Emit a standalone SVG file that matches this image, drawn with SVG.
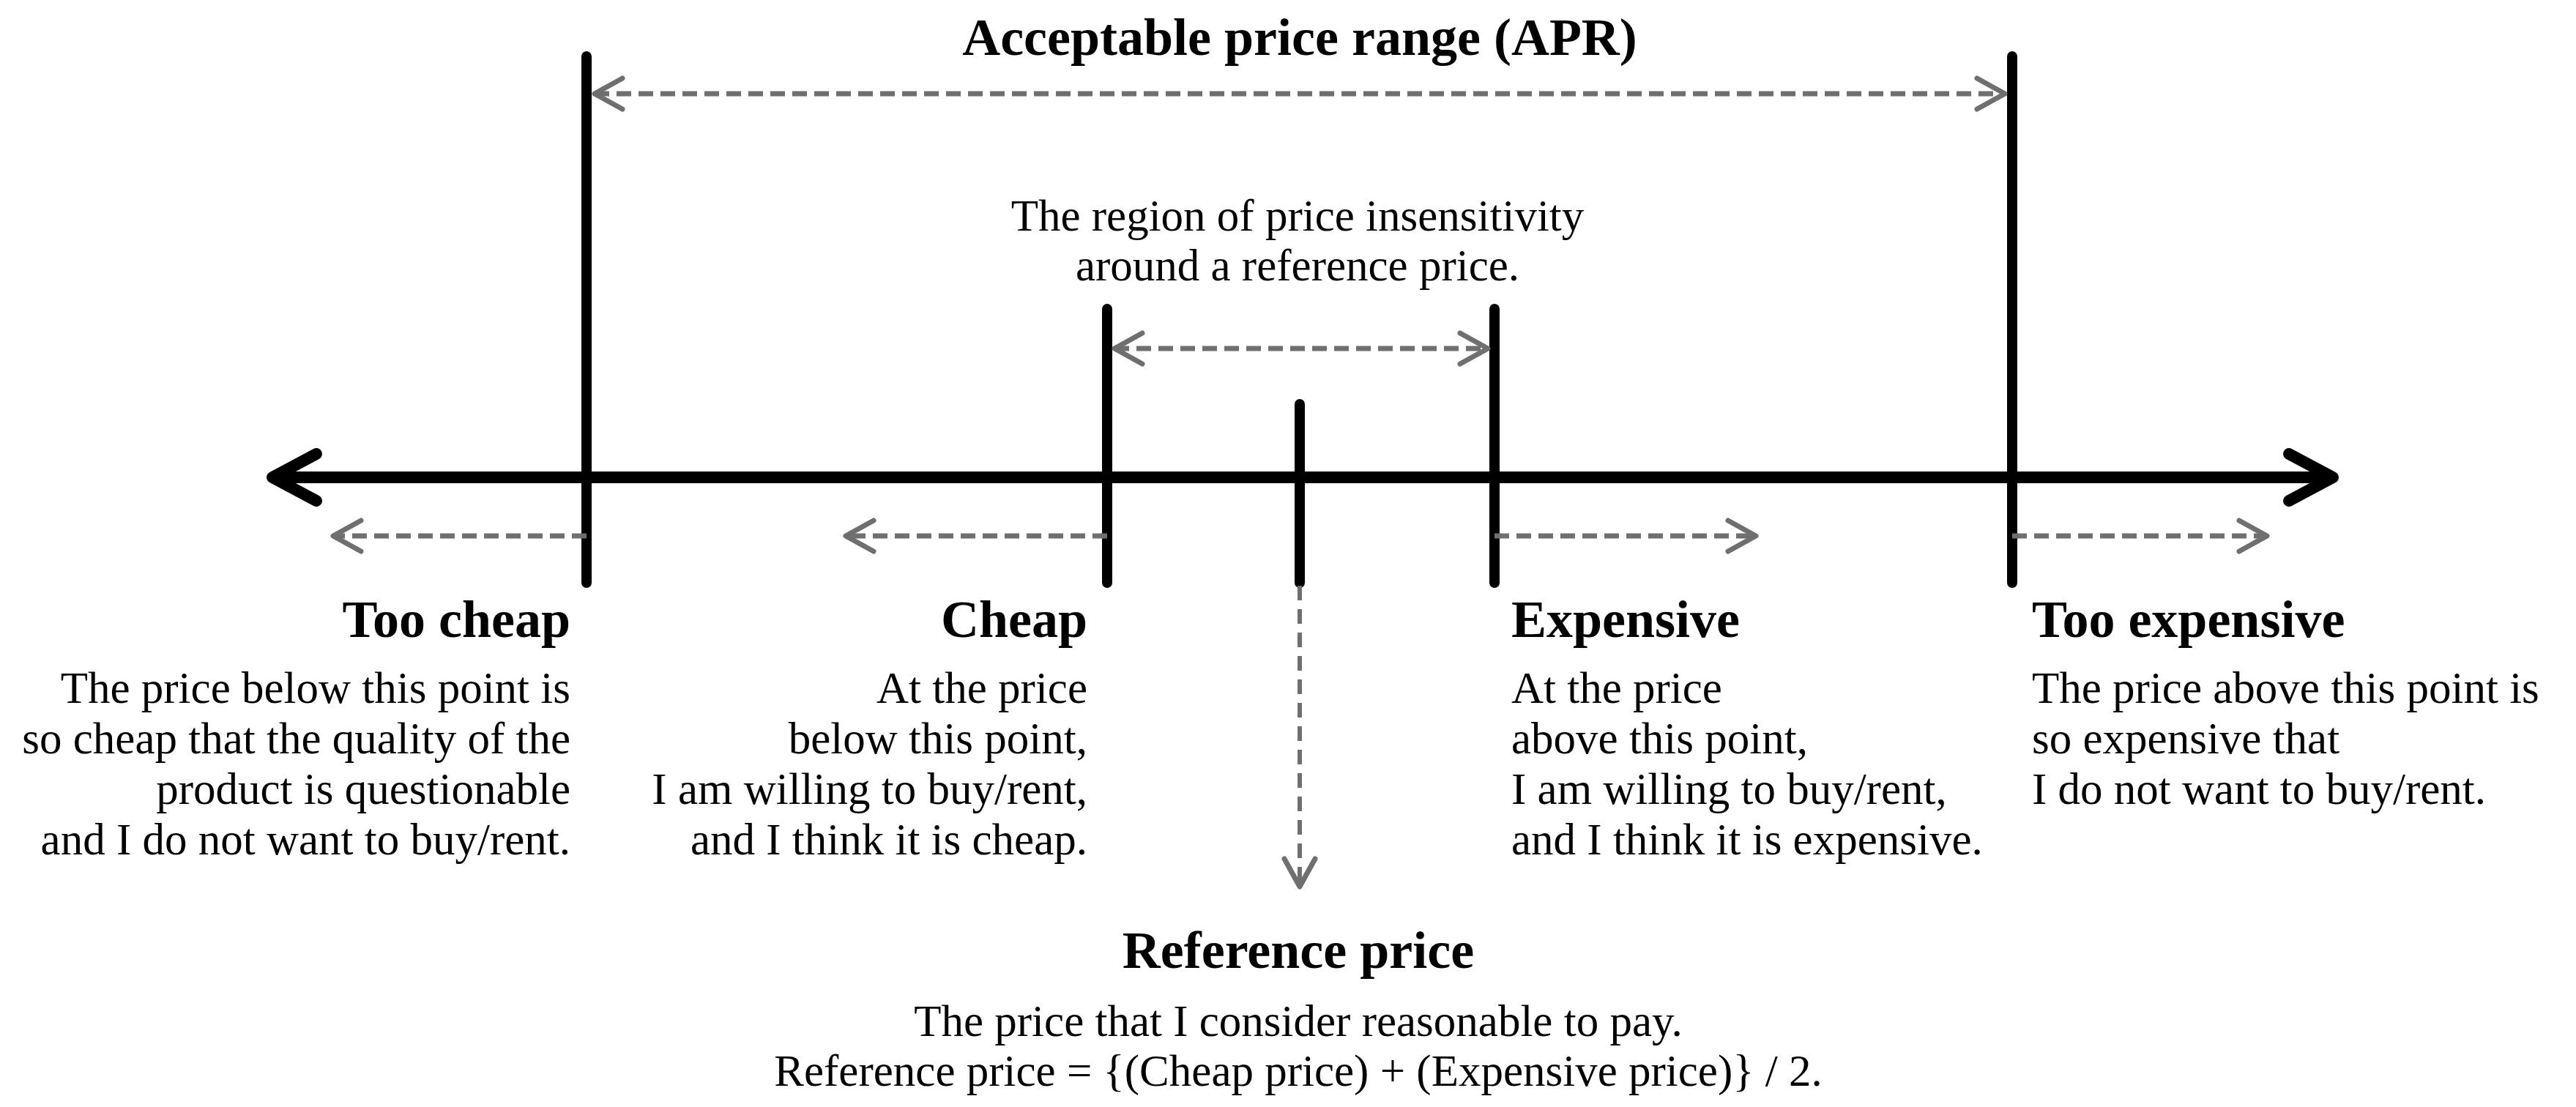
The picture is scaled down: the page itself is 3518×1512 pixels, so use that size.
<svg xmlns="http://www.w3.org/2000/svg" width="3518" height="1512" viewBox="0 0 3518 1512">
<style>
text{font-family:"Liberation Serif","Times New Roman",serif;fill:#000}
.h{font-size:72px;font-weight:bold}
.b{font-size:61px}
.m{text-anchor:middle}
.e{text-anchor:end}
.tick{stroke:#000;stroke-width:14;stroke-linecap:round;fill:none}
.axis{stroke:#000;stroke-width:16;fill:none}
.dash{stroke:#6f6f6f;stroke-width:7;stroke-dasharray:20 10;fill:none}
.vdash{stroke:#6f6f6f;stroke-width:6;stroke-dasharray:20 12;fill:none}
</style>
<defs>
<marker id="ah" markerUnits="userSpaceOnUse" viewBox="-80 -45 100 90" markerWidth="100" markerHeight="90" refX="0" refY="0" orient="auto-start-reverse">
<path d="M-60,-32 L0,0 L-60,32" fill="none" stroke="#000" stroke-width="16" stroke-linecap="round" stroke-linejoin="round"/>
</marker>
<marker id="dh" markerUnits="userSpaceOnUse" viewBox="-50 -30 60 60" markerWidth="60" markerHeight="60" refX="0" refY="0" orient="auto-start-reverse">
<path d="M-38,-21 L0,0 L-38,21" fill="none" stroke="#6f6f6f" stroke-width="7" stroke-linecap="round" stroke-linejoin="round"/>
</marker>
</defs>
<g id="connectors">
<line id="price-axis" class="axis" x1="372" y1="652" x2="3186" y2="652" marker-start="url(#ah)" marker-end="url(#ah)"/>
<line class="tick" x1="801" y1="77" x2="801" y2="796"/>
<line class="tick" x1="2748" y1="77" x2="2748" y2="796"/>
<line class="tick" x1="1512" y1="422" x2="1512" y2="796"/>
<line class="tick" x1="2041" y1="422" x2="2041" y2="796"/>
<line class="tick" x1="1775" y1="552" x2="1775" y2="796"/>
<line class="dash" x1="812" y1="128" x2="2738" y2="128" marker-start="url(#dh)" marker-end="url(#dh)"/>
<line class="dash" x1="1522" y1="476" x2="2032" y2="476" marker-start="url(#dh)" marker-end="url(#dh)"/>
<line class="dash" x1="801" y1="732" x2="455" y2="732" marker-end="url(#dh)"/>
<line class="dash" x1="1512" y1="732" x2="1155" y2="732" marker-end="url(#dh)"/>
<line class="dash" x1="2041" y1="732" x2="2398" y2="732" marker-end="url(#dh)"/>
<line class="dash" x1="2748" y1="732" x2="3096" y2="732" marker-end="url(#dh)"/>
<line class="vdash" x1="1775" y1="800" x2="1775" y2="1211" marker-end="url(#dh)"/>
</g>
<g id="apr">
<text class="h m" x="1775" y="75">Acceptable price range (APR)</text>
</g>
<g id="insensitivity">
<text class="b m" x="1772" y="315">The region of price insensitivity</text>
<text class="b m" x="1772" y="383">around  a reference price.</text>
</g>
<g id="too-cheap">
<text class="h e" x="779" y="870">Too cheap</text>
<text class="b e" x="779" y="960">The price below this point is</text>
<text class="b e" x="779" y="1029">so cheap that the quality of the</text>
<text class="b e" x="779" y="1098">product is questionable</text>
<text class="b e" x="779" y="1167">and I do not want to buy/rent.</text>
</g>
<g id="cheap">
<text class="h e" x="1485" y="870">Cheap</text>
<text class="b e" x="1485" y="960">At the price</text>
<text class="b e" x="1485" y="1029">below this point,</text>
<text class="b e" x="1485" y="1098">I am willing to buy/rent,</text>
<text class="b e" x="1485" y="1167">and I think it is cheap.</text>
</g>
<g id="expensive">
<text class="h" x="2064" y="870">Expensive</text>
<text class="b" x="2064" y="960">At the price</text>
<text class="b" x="2064" y="1029">above this point,</text>
<text class="b" x="2064" y="1098">I am willing to buy/rent,</text>
<text class="b" x="2064" y="1167">and I think it is expensive.</text>
</g>
<g id="too-expensive">
<text class="h" x="2775" y="870">Too expensive</text>
<text class="b" x="2775" y="960">The price above this point is</text>
<text class="b" x="2775" y="1029">so expensive that</text>
<text class="b" x="2775" y="1098">I do not want to buy/rent.</text>
</g>
<g id="reference-price">
<text class="h m" x="1773" y="1322">Reference price</text>
<text class="b m" x="1773" y="1415">The price that I consider reasonable to pay.</text>
<text class="b m" x="1773" y="1483">Reference price = {(Cheap price) + (Expensive price)} / 2.</text>
</g>
</svg>
